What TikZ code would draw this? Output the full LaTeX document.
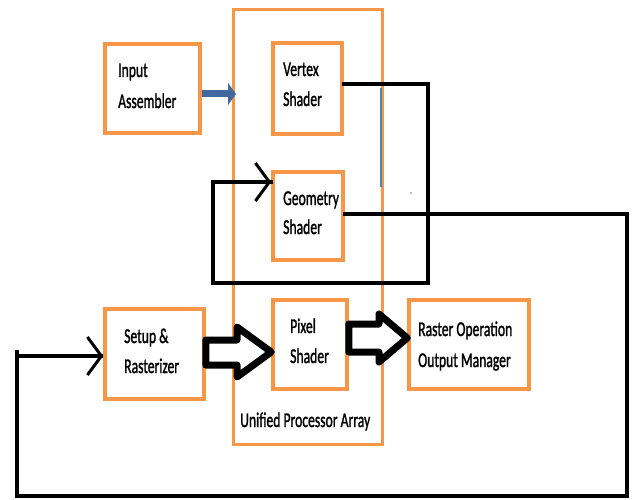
\documentclass[tikz,border=0pt]{standalone}
\usepackage{fontspec}
\setmainfont{Carlito}
\newfontfamily\lblfont[FakeBold=1.6]{Carlito}
\usetikzlibrary{arrows.meta}
\definecolor{boxorange}{RGB}{247,150,70}
\definecolor{arrblue}{RGB}{65,105,160}
\definecolor{thinblue}{RGB}{79,129,189}
\newcommand{\sq}[1]{\scalebox{0.65}[1]{#1}}
\begin{document}
\begin{tikzpicture}[x=1pt,y=-1pt,
  box/.style={draw=boxorange,line width=3.5pt,fill=none,rectangle,inner sep=0pt},
  lbl/.style={anchor=base west,inner sep=0pt,font=\lblfont\fontsize{21}{31}\selectfont,text=black},
  wire/.style={draw=black,line width=3.8pt,line cap=rect,line join=miter},
  hollow/.style={draw=black,line width=7pt,fill=white,line join=round},
  barb/.style={-{Straight Barb[length=14pt,width=38pt,line width=3pt]}}]
\useasboundingbox (0,0) rectangle (635,500);
% frame and boxes
\node[box,draw=boxorange,line width=3pt,minimum width=149pt,minimum height=434pt] (upa) at (307.5,227) {};
\node[box,minimum width=95pt,minimum height=89pt] (ia) at (152.5,88.5) {};
\node[box,minimum width=69pt,minimum height=91pt] (vs) at (307.5,88.5) {};
\node[box,minimum width=70pt,minimum height=88pt] (gs) at (308,216) {};
\node[box,minimum width=74pt,minimum height=89pt] (ps) at (310,344.5) {};
\node[box,minimum width=99pt,minimum height=90pt] (sr) at (154.5,354) {};
\node[box,minimum width=120pt,minimum height=89pt] (ro) at (469,344.5) {};
% texts
\node[lbl] (ia1) at (118,77) {\sq{Input}};
\node[lbl] (ia2) at (118,108) {\sq{Assembler}};
\node[lbl] (vs1) at (283,76) {\sq{Vertex}};
\node[lbl] (vs2) at (283,106) {\sq{Shader}};
\node[lbl] (gs1) at (283,205) {\sq{Geometry}};
\node[lbl] (gs2) at (283,234) {\sq{Shader}};
\node[lbl] (ps1) at (290,333) {\sq{Pixel}};
\node[lbl] (ps2) at (290,363) {\sq{Shader}};
\node[lbl] (sr1) at (124,343) {\sq{Setup \&}};
\node[lbl] (sr2) at (124,373) {\sq{Rasterizer}};
\node[lbl] (ro1) at (418,336) {\sq{Raster Operation}};
\node[lbl] (ro2) at (418,367) {\sq{Output Manager}};
\node[lbl] (upa1) at (240,427) {\sq{Unified Processor Array}};
% blue arrow
\draw[arrblue,line width=7pt,-{Triangle[length=8pt,width=22pt]}] (ia.east |- 0,94) -- (236,94);
% thin blue line and dot
\draw[thinblue,line width=1.2pt] (381,88) -- (381,187);
\fill[thinblue] (411,193) circle (0.8pt);
% loop vertex -> geometry
\draw[wire] (vs.east |- 0,84) -- (428,84) -- (428,283) -- (213,283) -- (213,182) -- (gs.west |- 0,182);
\draw[line width=3.5pt,barb] (262,182) -- (gs.west |- 0,182);
% loop geometry -> setup
\draw[wire] (gs.east |- 0,214) -- (627,214) -- (627,496) -- (17,496) -- (17,352) ;
\draw[wire,line cap=butt] (17,356) -- (sr.west |- 0,356);
\draw[line width=3.5pt,barb] (90,356) -- (sr.west |- 0,356);
% hollow arrows
\draw[hollow] (sr.east |- 0,340) -- (237,340) -- (237,327) -- (ps.west |- 0,352) -- (237,377) -- (237,365) -- (sr.east |- 0,365) -- cycle;
\draw[hollow] (ps.east |- 0,324) -- (379,324) -- (379,314) -- (ro.west |- 0,338) -- (379,362) -- (379,352) -- (ps.east |- 0,352) -- cycle;
\end{tikzpicture}
\end{document}
